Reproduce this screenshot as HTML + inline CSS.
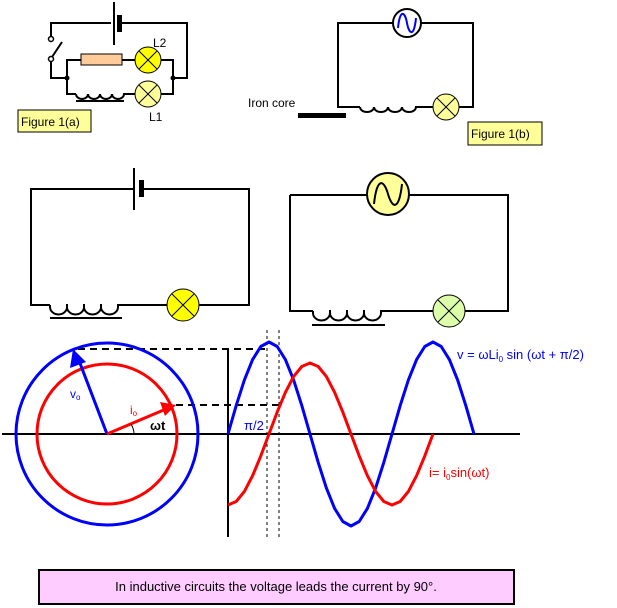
<!DOCTYPE html>
<html><head><style>
html,body{margin:0;padding:0;background:#fff;}
svg{display:block;font-family:"Liberation Sans",sans-serif;}
</style></head><body>
<svg width="617" height="608" viewBox="0 0 617 608" xmlns="http://www.w3.org/2000/svg">
<g fill="none" stroke="#000" stroke-width="2">
<polyline points="51,39 51,23 187,23 187,78 173,78"/>
<polyline points="51,59 51,78 67,78"/>
<line x1="52" y1="57" x2="62" y2="42"/>
<polyline points="67,78 67,60 81,60"/>
<line x1="122" y1="60" x2="135" y2="60"/>
<polyline points="161,60 173,60 173,94 161,94"/>
<polyline points="67,78 67,94 76,94"/>
<path d="M76,94 a6,5 0 0 0 12,0 a6,5 0 0 0 12,0 a6,5 0 0 0 12,0 a6,5 0 0 0 12,0 L135,94"/>
<line x1="76" y1="101" x2="124" y2="101"/>
</g>
<line x1="114" y1="2" x2="114" y2="45" stroke="#fff" stroke-width="6"/>
<line x1="114" y1="2" x2="114" y2="45" stroke="#000" stroke-width="2"/>
<rect x="117" y="15" width="5" height="17" fill="#000"/>
<circle cx="51" cy="39" r="2.5" fill="#fff" stroke="#000" stroke-width="1.5"/>
<circle cx="51" cy="59" r="2.5" fill="#fff" stroke="#000" stroke-width="1.5"/>
<circle cx="67" cy="78" r="2.5" fill="#000"/>
<circle cx="173" cy="78" r="2.5" fill="#000"/>
<rect x="81" y="54" width="41" height="11" fill="#ffcc99" stroke="#000" stroke-width="1"/>
<g stroke="#000" stroke-width="1">
<circle cx="148" cy="60" r="13" fill="#ffff00"/>
<line x1="139" y1="51" x2="157" y2="69"/><line x1="157" y1="51" x2="139" y2="69"/>
<circle cx="148" cy="94" r="13" fill="#ffff99"/>
<line x1="139" y1="85" x2="157" y2="103"/><line x1="157" y1="85" x2="139" y2="103"/>
</g>
<text x="153" y="47" font-size="12">L2</text>
<text x="149" y="121" font-size="12">L1</text>
<rect x="18" y="110" width="73" height="22" fill="#ffff99" stroke="#000" stroke-width="1"/>
<text x="21" y="126" font-size="12">Figure 1(a)</text>

<g fill="none" stroke="#000" stroke-width="2">
<polyline points="393,23 338,23 338,107 360,107"/>
<polyline points="421,23 473,23 473,107 459,107"/>
<path d="M360,107 a7,5 0 0 0 14,0 a7,5 0 0 0 14,0 a7,5 0 0 0 14,0 a7,5 0 0 0 14,0 L433,107"/>
</g>
<circle cx="407" cy="23" r="14" fill="#fff" stroke="#000" stroke-width="2"/>
<path d="M398,28 C400,8 405,12 407,23 C409,34 414,38 416,18" fill="none" stroke="#00f" stroke-width="2"/>
<g stroke="#000" stroke-width="1">
<circle cx="446" cy="107" r="13" fill="#ffff99"/>
<line x1="437" y1="98" x2="455" y2="116"/><line x1="455" y1="98" x2="437" y2="116"/>
</g>
<rect x="298" y="113" width="48" height="5" fill="#000"/>
<text x="248" y="107" font-size="12">Iron core</text>
<rect x="468" y="122" width="74" height="23" fill="#ffff99" stroke="#000" stroke-width="1"/>
<text x="471" y="138" font-size="12">Figure 1(b)</text>

<g fill="none" stroke="#000" stroke-width="2">
<polyline points="134,189 31,189 31,305 50,305"/>
<polyline points="139,189 249,189 249,305 199,305"/>
<path d="M50,305 v2 a8,7 0 0 0 17,0 v-3 v3 a8,7 0 0 0 17,0 v-3 v3 a8,7 0 0 0 17,0 v-3 v3 a8,7 0 0 0 17,0 v-2 L167,305"/>
<line x1="50" y1="318" x2="122" y2="318"/>
<polyline points="290,195 290,311 313,311"/>
<polyline points="367,195 290,195"/>
<polyline points="409,195 508,195 508,311 465,311"/>
<path d="M313,311 v2 a8,7 0 0 0 17,0 v-3 v3 a8,7 0 0 0 17,0 v-3 v3 a8,7 0 0 0 17,0 v-3 v3 a8,7 0 0 0 17,0 v-2 L433,311"/>
<line x1="312" y1="325" x2="385" y2="325"/>
</g>
<line x1="134" y1="168" x2="134" y2="210" stroke="#000" stroke-width="2"/>
<rect x="139" y="180" width="5" height="17" fill="#000"/>
<g stroke="#000" stroke-width="1">
<circle cx="183" cy="305" r="16" fill="#ffff00"/>
<line x1="172" y1="294" x2="194" y2="316"/><line x1="194" y1="294" x2="172" y2="316"/>
<circle cx="449" cy="311" r="16" fill="#ddffaa"/>
<line x1="438" y1="300" x2="460" y2="322"/><line x1="460" y1="300" x2="438" y2="322"/>
</g>
<circle cx="388" cy="194" r="21" fill="#ffff99" stroke="#000" stroke-width="2"/>
<path d="M374,204 C377,176 384,180 388,194 C392,208 399,212 402,184" fill="none" stroke="#000" stroke-width="2"/>

<line x1="2" y1="434" x2="520" y2="434" stroke="#000" stroke-width="2"/>
<line x1="228" y1="350" x2="228" y2="537" stroke="#000" stroke-width="2"/>
<g stroke="#000" stroke-width="1" stroke-dasharray="3,3">
<line x1="267" y1="330" x2="267" y2="537"/>
<line x1="279" y1="330" x2="279" y2="537"/>
</g>
<g stroke="#000" stroke-width="2" stroke-dasharray="7,5">
<line x1="78" y1="349" x2="268" y2="349"/>
<line x1="176" y1="405" x2="280" y2="405"/>
</g>
<circle cx="107" cy="434" r="91" fill="none" stroke="#00f" stroke-width="3"/>
<circle cx="107" cy="434" r="70" fill="none" stroke="#f00" stroke-width="3"/>
<line x1="107" y1="434" x2="78" y2="358" stroke="#00f" stroke-width="3"/>
<polygon points="73,349 70,368 86,362" fill="#00f"/>
<line x1="107" y1="434" x2="166" y2="409" stroke="#f00" stroke-width="3"/>
<polygon points="176,405 160,402 165,416" fill="#f00"/>
<path d="M131,424 Q134,429 134,434" fill="none" stroke="#000" stroke-width="1"/>
<path fill="none" stroke="#00f" stroke-width="3" stroke-linejoin="round" d="M228,434 L236.2,405.6 244.4,379.9 252.6,359.6 260.8,346.5 269,342 277.2,346.5 285.4,359.6 293.6,379.9 301.8,405.6 310,434 318.2,462.4 326.4,488.1 334.6,508.4 342.8,521.5 351,526 359.2,521.5 367.4,508.4 375.6,488.1 383.8,462.4 392,434 400.2,405.6 408.4,379.9 416.6,359.6 424.8,346.5 433,342 441.2,346.5 449.4,359.6 457.6,379.9 465.8,405.6 474,434"/>
<path fill="none" stroke="#f00" stroke-width="3" stroke-linejoin="round" d="M228,505 L236.2,501.5 244.4,491.4 252.6,475.7 260.8,455.9 269,434 277.2,412.1 285.4,392.3 293.6,376.6 301.8,366.5 310,363 318.2,366.5 326.4,376.6 334.6,392.3 342.8,412.1 351,434 359.2,455.9 367.4,475.7 375.6,491.4 383.8,501.5 392,505 400.2,501.5 408.4,491.4 416.6,475.7 424.8,455.9 433,434"/>
<text x="70" y="398" font-size="12" fill="#00f">v<tspan font-size="8" dy="2">o</tspan></text>
<text x="130" y="414" font-size="12" fill="#f00">i<tspan font-size="8" dy="2">o</tspan></text>
<text x="150" y="430" font-size="13" font-weight="bold">ωt</text>
<text x="244" y="430" font-size="13" fill="#00f">π/2</text>
<text x="457" y="359" font-size="13" fill="#00f">v = ωLi<tspan font-size="8" dy="3">0</tspan><tspan dy="-3"> sin (ωt + π/2)</tspan></text>
<text x="429" y="477" font-size="13" fill="#f00">i= i<tspan font-size="8" dy="3">0</tspan><tspan dy="-3">sin(ωt)</tspan></text>

<rect x="39" y="570" width="475" height="34" fill="#ffccff" stroke="#000" stroke-width="2"/>
<text x="276" y="591" font-size="13" text-anchor="middle">In inductive circuits the voltage leads the current by 90°.</text>
</svg>
</body></html>
